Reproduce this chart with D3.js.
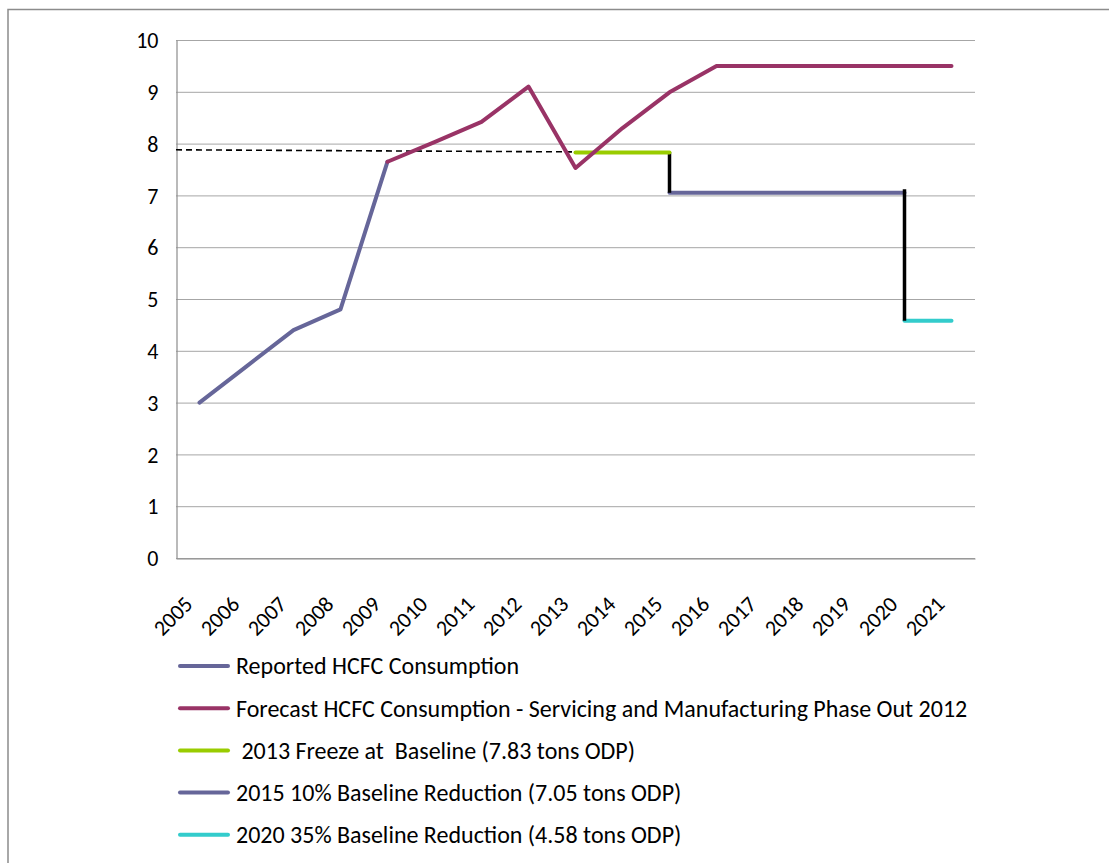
<!DOCTYPE html>
<html>
<head>
<meta charset="utf-8">
<script src="https://cdn.jsdelivr.net/npm/d3@7/dist/d3.min.js"></script>
<style>
  html, body { margin: 0; padding: 0; background: #fff; }
  svg text { font-family: Carlito, Calibri, "Open Sans", "Noto Sans", sans-serif; fill: #000; }
</style>
</head>
<body>
<svg id="chart" width="1109" height="863"></svg>
<script>
// Years on the category axis
const years = ["2005","2006","2007","2008","2009","2010","2011","2012","2013",
               "2014","2015","2016","2017","2018","2019","2020","2021"];
const yTicks = [0,1,2,3,4,5,6,7,8,9,10];

// Reported consumption (2005–2009)
const reportedYears = ["2005","2006","2007","2008","2009"];
const reportedValues = [3.0, 3.7, 4.4, 4.8, 7.65];

// Forecast consumption (2009–2021)
const forecastYears = ["2009","2010","2011","2012","2013","2014","2015","2016","2017","2018","2019","2020","2021"];
const forecastValues = [7.65, 8.03, 8.42, 9.1, 7.53, 8.3, 8.99, 9.5, 9.5, 9.5, 9.5, 9.5, 9.5];

// Control targets
const freezeYears = ["2013","2014","2015"];
const freezeValues = [7.83, 7.83, 7.83];
const cut10Years = ["2015","2016","2017","2018","2019","2020"];
const cut10Values = [7.05, 7.05, 7.05, 7.05, 7.05, 7.05];
const cut35Years = ["2020","2021"];
const cut35Values = [4.58, 4.58];

// Step-down connectors between targets
const dropYears = ["2015","2020"];
const dropFrom = [7.83, 7.12];
const dropTo = [7.05, 4.58];

// Baseline reference (from the axis to 2013)
const baselineStart = 7.88;
const baselineEnd = 7.84;

const legendLabels = [
  "Reported HCFC Consumption",
  "Forecast HCFC Consumption - Servicing and Manufacturing Phase Out 2012",
  " 2013 Freeze at  Baseline (7.83 tons ODP)",
  "2015 10% Baseline Reduction (7.05 tons ODP)",
  "2020 35% Baseline Reduction (4.58 tons ODP)"
];
const colors = {
  reported: "#666699",
  forecast: "#993366",
  freeze: "#99cc00",
  cut10: "#666699",
  cut35: "#33cccc"
};
const legendColors = [colors.reported, colors.forecast, colors.freeze, colors.cut10, colors.cut35];

const svg = d3.select("#chart");
const plot = { left: 176, right: 975, top: 40, bottom: 558 };
const fontStack = "Carlito, Calibri, 'Open Sans', sans-serif";

// Outer chart border
svg.append("path")
  .attr("d", `M8,870 L8,9.5 L1115,9.5`)
  .attr("fill", "none")
  .attr("stroke", "#8c8c8c")
  .attr("stroke-width", 1.5);

const x = d3.scalePoint().domain(years).range([plot.left, plot.right]).padding(0.5);
const y = d3.scaleLinear().domain([0, 10]).range([plot.bottom, plot.top]);

// Horizontal gridlines
svg.append("g")
  .selectAll("line")
  .data(yTicks)
  .join("line")
  .attr("x1", plot.left).attr("x2", plot.right)
  .attr("y1", d => y(d) + 0.5).attr("y2", d => y(d) + 0.5)
  .attr("stroke", "#a6a6a6").attr("stroke-width", 1);

// Y axis
const yAxis = svg.append("g")
  .attr("transform", `translate(${plot.left + 0.5},0)`)
  .call(d3.axisLeft(y).tickValues(yTicks).tickSize(0).tickPadding(18).tickFormat(d3.format("d")));
yAxis.select(".domain").attr("stroke", "#8c8c8c").attr("stroke-width", 1.2);
yAxis.selectAll("text").attr("font-size", 22).attr("fill", "#000").attr("dy", "0.35em")
  .style("font-family", fontStack);

// X axis
const xAxis = svg.append("g")
  .attr("transform", `translate(0,${plot.bottom + 0.5})`)
  .call(d3.axisBottom(x).tickSize(0).tickPadding(0));
xAxis.select(".domain").attr("stroke", "#8c8c8c").attr("stroke-width", 1.2);
xAxis.selectAll("text")
  .attr("font-size", 22)
  .attr("fill", "#000")
  .attr("text-anchor", "end")
  .attr("dy", 0).attr("y", 0)
  .attr("transform", "translate(-6,47) rotate(-45)")
  .style("font-family", fontStack);

const line = d3.line().x(d => x(d[0])).y(d => y(d[1]));
function series(ys, vs) { return ys.map((yr, i) => [yr, vs[i]]); }

// Dashed baseline reference
svg.append("line")
  .attr("x1", plot.left).attr("y1", y(baselineStart))
  .attr("x2", x("2013")).attr("y2", y(baselineEnd))
  .attr("stroke", "#000").attr("stroke-width", 1.6)
  .attr("stroke-dasharray", "6,4");

function drawLine(data, color, cap) {
  svg.append("path")
    .datum(data)
    .attr("d", line)
    .attr("fill", "none")
    .attr("stroke", color)
    .attr("stroke-width", 4)
    .attr("stroke-linejoin", "round")
    .attr("stroke-linecap", cap || "round");
}

drawLine(series(cut10Years, cut10Values), colors.cut10);
drawLine(series(cut35Years, cut35Values), colors.cut35);

// Step-down connectors
svg.append("g")
  .selectAll("line")
  .data(dropYears.map((yr, i) => ({ yr, from: dropFrom[i], to: dropTo[i] })))
  .join("line")
  .attr("x1", d => x(d.yr)).attr("x2", d => x(d.yr))
  .attr("y1", d => y(d.from)).attr("y2", d => y(d.to))
  .attr("stroke", "#000").attr("stroke-width", 3.5);

drawLine(series(freezeYears, freezeValues), colors.freeze);
drawLine(series(reportedYears, reportedValues), colors.reported);
drawLine(series(forecastYears, forecastValues), colors.forecast);

// Legend
const legend = svg.append("g");
const legendY0 = 666, legendStep = 42.2;
legendLabels.forEach((label, i) => {
  const cy = legendY0 + i * legendStep;
  legend.append("line")
    .attr("x1", 180).attr("x2", 228)
    .attr("y1", cy).attr("y2", cy)
    .attr("stroke", legendColors[i]).attr("stroke-width", 4)
    .attr("stroke-linecap", "round");
  legend.append("text")
    .attr("x", 236).attr("y", cy)
    .attr("dy", "0.35em")
    .attr("font-size", 24)
    .style("white-space", "pre")
    .attr("xml:space", "preserve")
    .style("font-family", fontStack)
    .text(label);
});
</script>
</body>
</html>
